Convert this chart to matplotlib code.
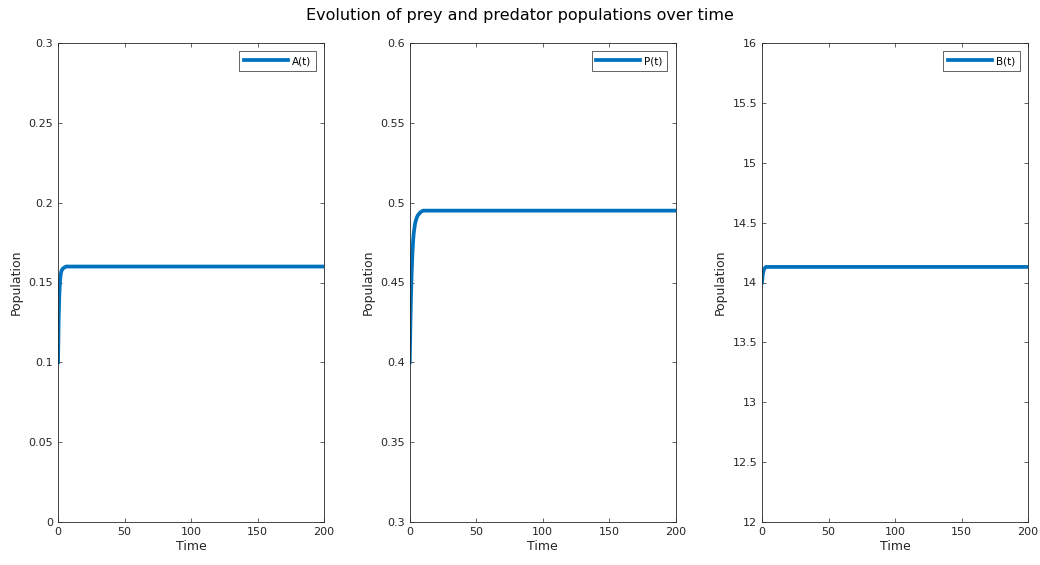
import matplotlib.pyplot as plt

# time points and population values
time = [0, 0.5, 1, 1.5, 2, 2.5, 3, 4, 5, 6, 8, 10, 15, 20, 50, 100, 150, 200]
prey_a = [0.100, 0.128, 0.143, 0.151, 0.155, 0.157, 0.158, 0.159, 0.1595, 0.16,
          0.16, 0.16, 0.16, 0.16, 0.16, 0.16, 0.16, 0.16]
pred_p = [0.400, 0.425, 0.444, 0.458, 0.468, 0.476, 0.481, 0.487, 0.490, 0.492,
          0.494, 0.495, 0.495, 0.495, 0.495, 0.495, 0.495, 0.495]
res_b = [14.00, 14.06, 14.09, 14.11, 14.12, 14.125, 14.13, 14.13, 14.13, 14.13,
         14.13, 14.13, 14.13, 14.13, 14.13, 14.13, 14.13, 14.13]

labels = ["A(t)", "P(t)", "B(t)"]
ylims = [(0, 0.3), (0.3, 0.6), (12, 16)]
yticks = [
    [0, 0.05, 0.1, 0.15, 0.2, 0.25, 0.3],
    [0.3, 0.35, 0.4, 0.45, 0.5, 0.55, 0.6],
    [12, 12.5, 13, 13.5, 14, 14.5, 15, 15.5, 16],
]
xticks = [0, 50, 100, 150, 200]
series = [prey_a, pred_p, res_b]

line_color = (0, 0.447, 0.741)
axis_gray = (0.15, 0.15, 0.15)

fig = plt.figure(figsize=(10.4, 5.65), dpi=100)
lefts = [0.0558, 0.394, 0.7327]

for left, vals, lab, ylim, yt in zip(lefts, series, labels, ylims, yticks):
    ax = fig.add_axes([left, 0.0761, 0.2558, 0.8478])
    ax.plot(time, vals, color=line_color, linewidth=2.7, label=lab)
    ax.set_xlim(0, 200)
    ax.set_ylim(*ylim)
    ax.set_xticks(xticks)
    ax.set_yticks(yt)
    ax.set_yticklabels([f"{v:g}" for v in yt])
    ax.tick_params(direction="in", top=True, right=True, labelsize=8,
                   colors=axis_gray, length=3, width=0.5)
    for s in ax.spines.values():
        s.set_color(axis_gray)
        s.set_linewidth(0.6)
    ax.set_xlabel("Time", fontsize=9, color=axis_gray, labelpad=2)
    ax.set_ylabel("Population", fontsize=9, color=axis_gray, labelpad=4)
    leg = ax.legend(loc="upper right", fontsize=7.5, fancybox=False,
                    handlelength=4.2, borderpad=0.45, handletextpad=0.4,
                    borderaxespad=0.8, framealpha=1)
    leg.get_frame().set_edgecolor(axis_gray)
    leg.get_frame().set_linewidth(0.5)

fig.suptitle("Evolution of prey and predator populations over time",
             fontsize=11.5, y=0.985, color="black")

plt.savefig("out.png", dpi=100)
plt.close()
